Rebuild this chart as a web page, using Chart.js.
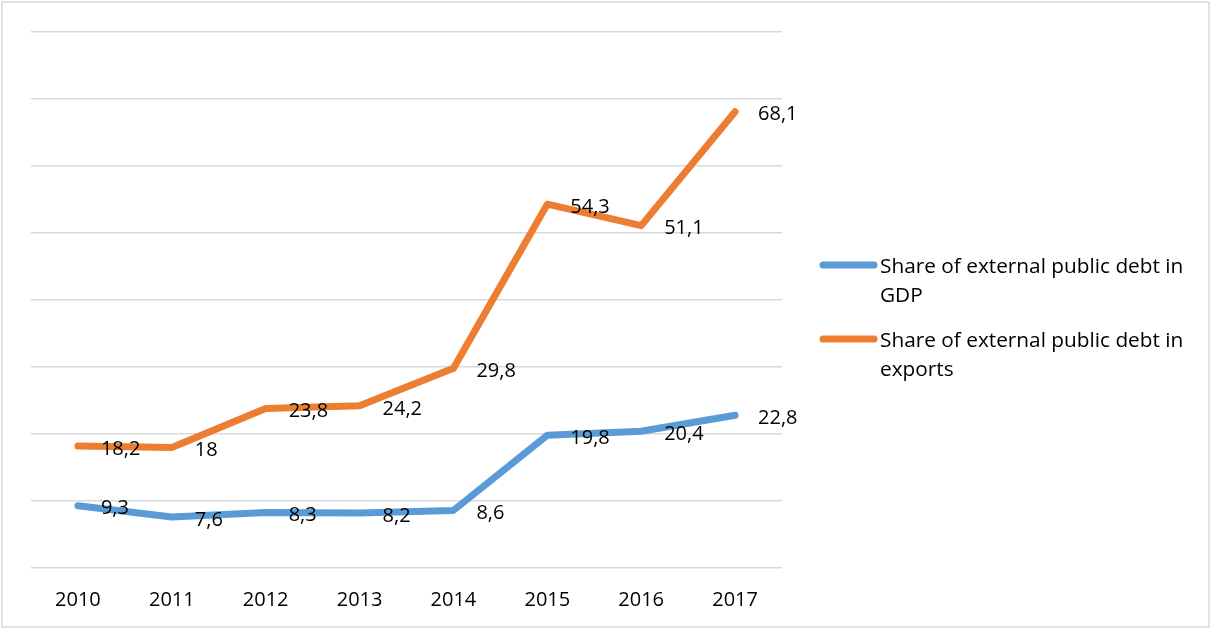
<!DOCTYPE html>
<html><head><meta charset="utf-8">
<script src="https://cdn.jsdelivr.net/npm/chart.js@4/dist/chart.umd.min.js"></script>
<style>html,body{margin:0;padding:0;background:#fff}#wrap{width:1212px;height:630px;position:relative}</style>
</head><body><div id="wrap"><canvas id="c" width="1212" height="630"></canvas></div>
<script>
const years = ['2010','2011','2012','2013','2014','2015','2016','2017'];
const gdpShare = [9.3, 7.6, 8.3, 8.2, 8.6, 19.8, 20.4, 22.8];
const exportsShare = [18.2, 18, 23.8, 24.2, 29.8, 54.3, 51.1, 68.1];
const seriesNames = [['Share of external public debt in','GDP'], ['Share of external public debt in','exports']];
const FONT = '"Open Sans", "Liberation Sans", sans-serif';

const fmt = v => String(v).replace('.', ',');

const labelsPlugin = {
  id: 'dlabels',
  afterDatasetsDraw(chart) {
    const ctx = chart.ctx;
    ctx.save();
    ctx.font = '20px ' + FONT;
    ctx.fillStyle = '#000';
    ctx.textAlign = 'left';
    ctx.textBaseline = 'middle';
    chart.data.datasets.forEach((ds, i) => {
      chart.getDatasetMeta(i).data.forEach((pt, j) => {
        ctx.fillText(fmt(ds.data[j]), pt.x + 23, pt.y + 3);
      });
    });
    ctx.restore();
  }
};

const legendPlugin = {
  id: 'customLegend',
  afterDraw(chart) {
    const ctx = chart.ctx;
    ctx.save();
    ctx.strokeStyle = '#d9d9d9';
    ctx.lineWidth = 1.5;
    ctx.strokeRect(2, 2, 1207, 625);
    ctx.font = '20.8px ' + FONT;
    ctx.textAlign = 'left';
    ctx.textBaseline = 'middle';
    const tops = [265, 339];
    chart.data.datasets.forEach((ds, i) => {
      const y = tops[i];
      ctx.strokeStyle = ds.borderColor;
      ctx.lineWidth = 7;
      ctx.lineCap = 'round';
      ctx.beginPath();
      ctx.moveTo(823, y);
      ctx.lineTo(874, y);
      ctx.stroke();
      ctx.fillStyle = '#000';
      seriesNames[i].forEach((t, k) => ctx.fillText(t, 880, y + 2 + k * 29));
    });
    ctx.restore();
  }
};

new Chart(document.getElementById('c'), {
  type: 'line',
  data: {
    labels: years,
    datasets: [
      { label: seriesNames[0].join(' '), data: gdpShare, borderColor: '#5b9bd5', backgroundColor: '#5b9bd5',
        borderWidth: 7, pointRadius: 0, tension: 0, borderCapStyle: 'round', borderJoinStyle: 'round' },
      { label: seriesNames[1].join(' '), data: exportsShare, borderColor: '#ed7d31', backgroundColor: '#ed7d31',
        borderWidth: 7, pointRadius: 0, tension: 0, borderCapStyle: 'round', borderJoinStyle: 'round' }
    ]
  },
  options: {
    responsive: false,
    animation: false,
    layout: { padding: { left: 31, right: 430, top: 32, bottom: 0 } },
    plugins: { legend: { display: false }, tooltip: { enabled: false } },
    scales: {
      x: {
        offset: true,
        grid: { display: false, drawTicks: false, offset: true },
        border: { display: false },
        ticks: { font: { family: FONT, size: 20 }, color: '#000', padding: 20, maxRotation: 0 },
        afterFit: s => { s.height = 62; s.paddingLeft = 0; s.paddingRight = 0; }
      },
      y: {
        min: 0, max: 80,
        ticks: { display: false, stepSize: 10 },
        grid: { color: '#d9d9d9', lineWidth: 1.5, drawTicks: false },
        border: { display: false },
        afterFit: s => { s.width = 0; }
      }
    }
  },
  plugins: [labelsPlugin, legendPlugin]
});
</script></body></html>
